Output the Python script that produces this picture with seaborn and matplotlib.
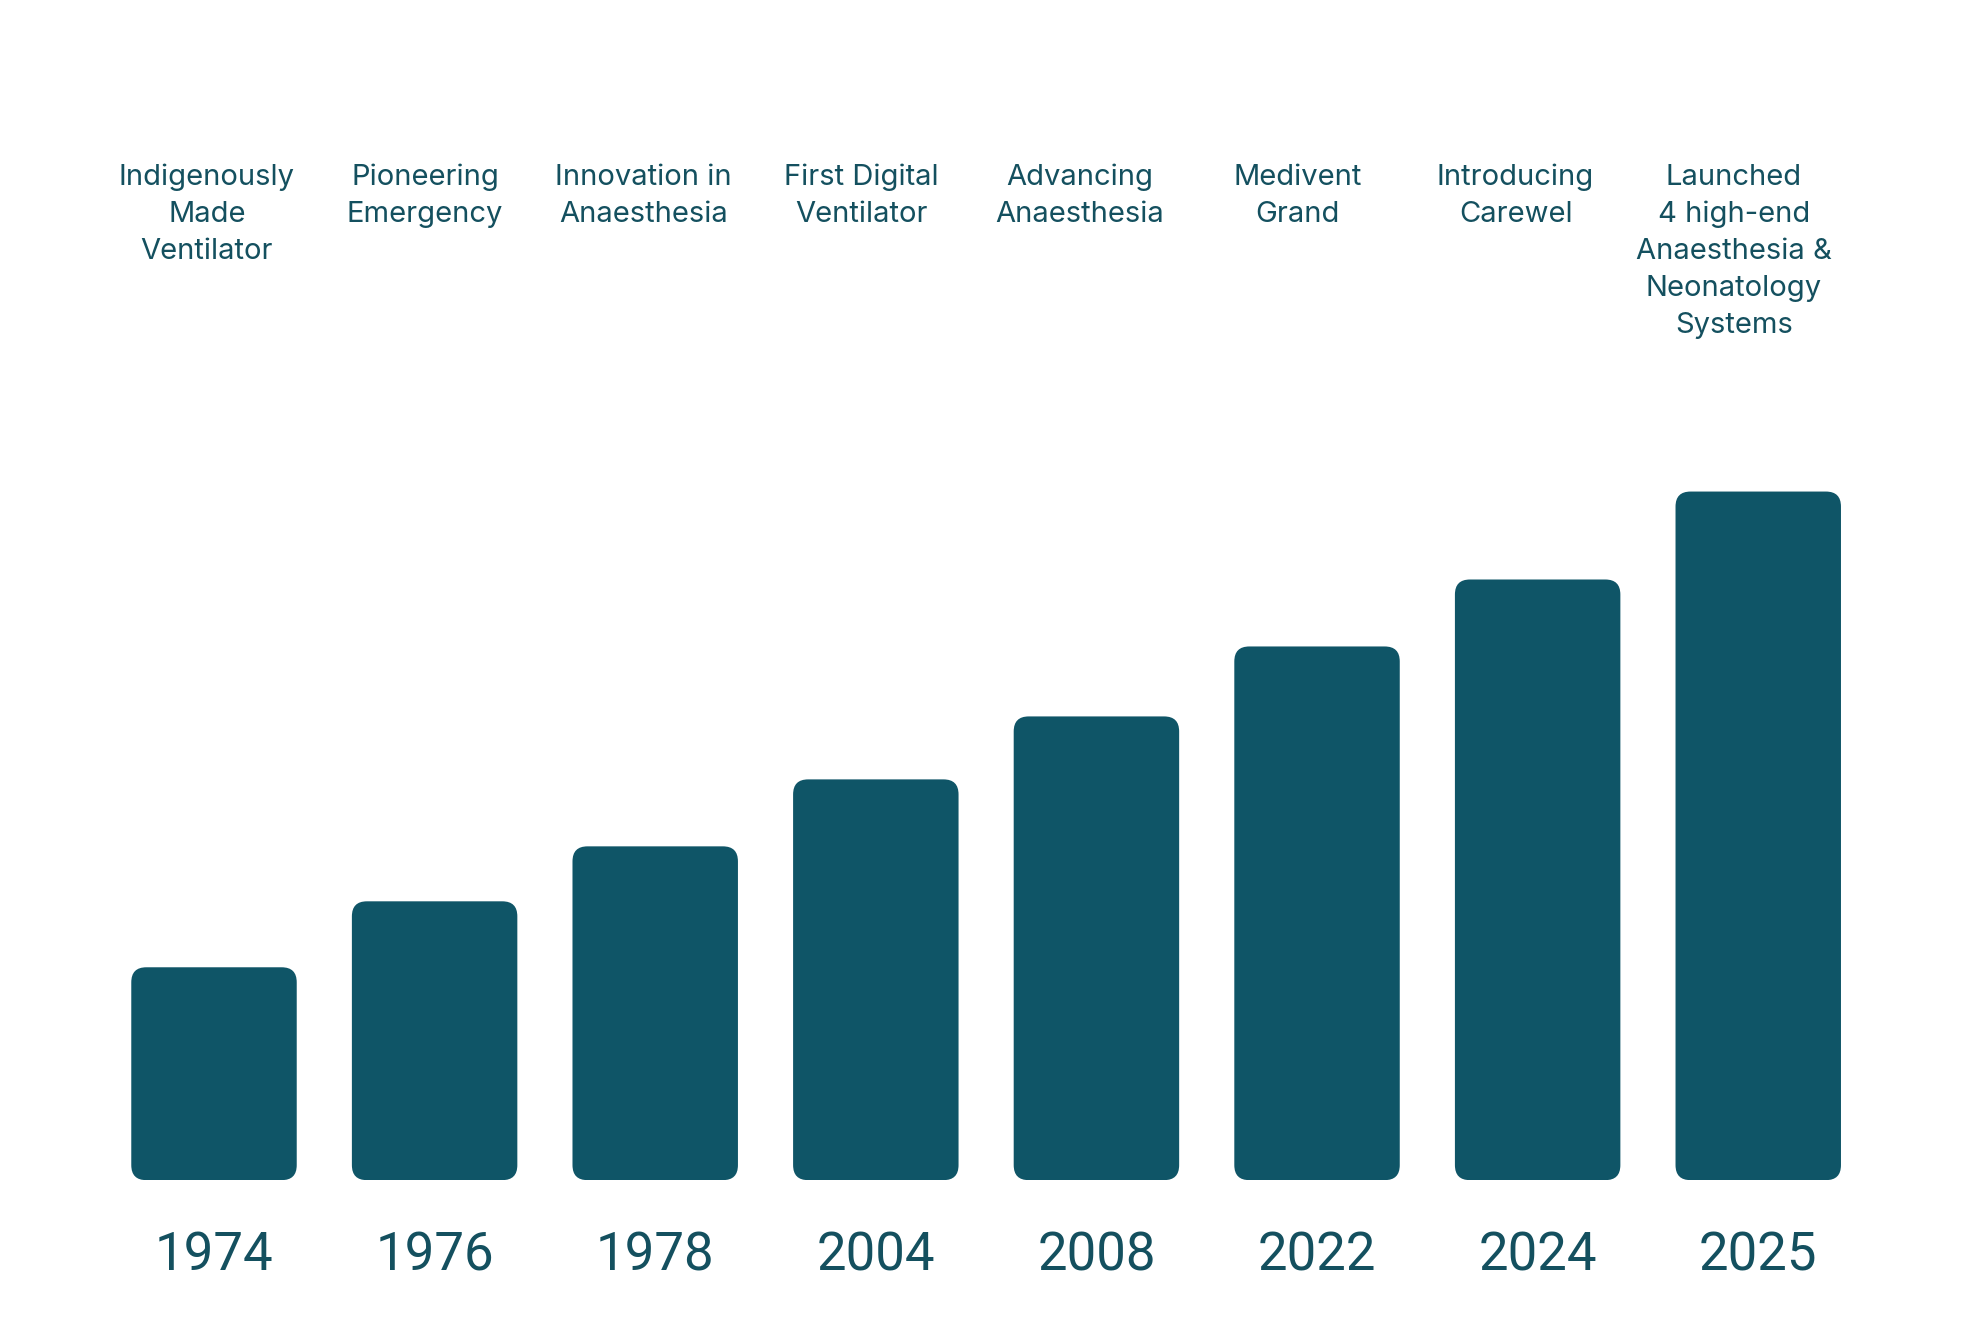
import matplotlib
matplotlib.use('Agg')
import matplotlib.pyplot as plt
import matplotlib.transforms as mtransforms
from matplotlib.patches import FancyBboxPatch
import seaborn as sns

# data
years = ['1974', '1976', '1978', '2004', '2008', '2022', '2024', '2025']
milestones = [
    'Indigenously\nMade\nVentilator',
    'Pioneering\nEmergency',
    'Innovation in\nAnaesthesia',
    'First Digital\nVentilator',
    'Advancing\nAnaesthesia',
    'Medivent\nGrand',
    'Introducing\nCarewel',
    'Launched\n4 high-end\nAnaesthesia &\nNeonatology\nSystems',
]
growth = [213, 279, 334, 401, 464, 534, 601, 689]

bar_color = '#0f5567'
text_color = '#14505f'

sns.set_theme(style='white')
plt.rcParams['font.family'] = ['DejaVu Sans']

fig = plt.figure(figsize=(19.64, 13.32), dpi=100)
ax = fig.add_axes([0.0528, 0.1140, 0.8986, 0.5875])

sns.barplot(x=years, y=growth, color=bar_color, saturation=1, width=0.75, ax=ax)
ax.set_xlim(-0.5, len(years) - 0.5)
ax.set_ylim(0, 783)

# swap plain bars for rounded ones
x_px = ax.bbox.width / len(years)
y_px = ax.bbox.height / 783
aspect = x_px / y_px
radius = 15 / x_px
for p in list(ax.patches):
    x, y = p.get_x(), p.get_y()
    w, h = p.get_width(), p.get_height()
    p.remove()
    ax.add_patch(FancyBboxPatch((x, y), w, h,
                                boxstyle=f'round,pad=0,rounding_size={radius}',
                                mutation_aspect=aspect,
                                fc=bar_color, ec='none'))

sns.despine(ax=ax, left=True, bottom=True)
ax.set_yticks([])
ax.set_xlabel('')
ax.set_ylabel('')
ax.tick_params(axis='x', length=0, pad=36, labelsize=38, labelcolor=text_color)
for lbl in ax.get_xticklabels():
    lbl.set_family(['Roboto', 'DejaVu Sans'])

# milestone captions above the bars
trans = mtransforms.blended_transform_factory(ax.transData, fig.transFigure)
for i, txt in enumerate(milestones):
    ax.text(i * 0.9887 - 0.032, 0.877, txt, transform=trans, ha='center', va='top',
            fontsize=21, color=text_color, family=['Inter', 'DejaVu Sans'],
            linespacing=1.47)

plt.savefig('out.png', dpi=100, facecolor='white')
plt.close()
